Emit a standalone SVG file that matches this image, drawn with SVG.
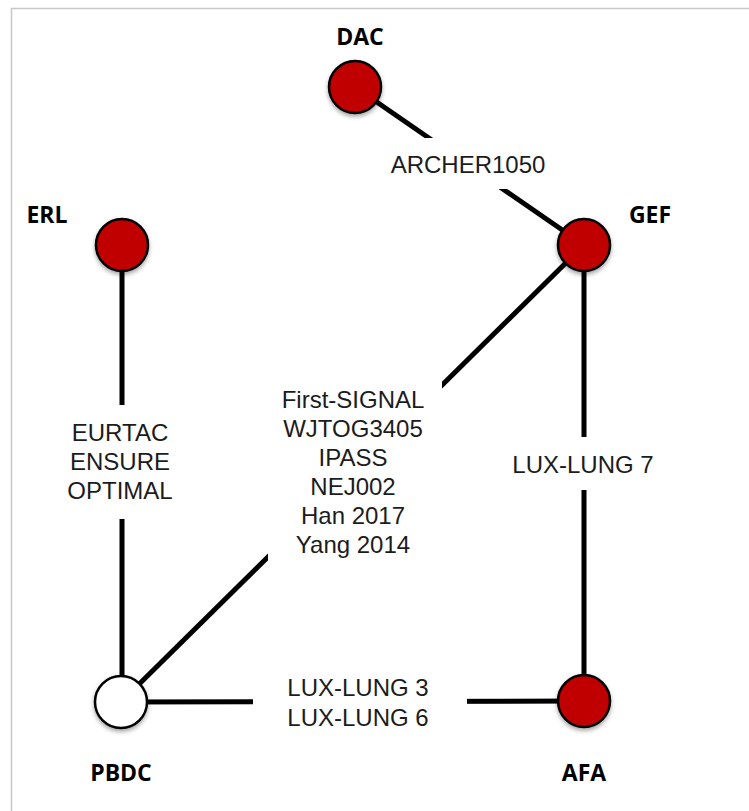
<svg xmlns="http://www.w3.org/2000/svg" width="749" height="811" viewBox="0 0 749 811">
<style>
.edge{stroke:#000;stroke-width:5;fill:none}
.bg{fill:#fff}
.lbl{font-family:"Liberation Sans",Arial,sans-serif;font-size:24px;fill:#1c1c1c;text-anchor:middle}
.name{font-family:"Open Sans","Liberation Sans",sans-serif;font-weight:bold;font-size:23px;fill:#000;text-anchor:middle}
.red{fill:#c00000;stroke:#000;stroke-width:2.5}
.white{fill:#fff;stroke:#000;stroke-width:2.5}
</style>
<defs>
<filter id="sh" x="-30%" y="-30%" width="160%" height="170%">
<feDropShadow dx="0" dy="2.5" stdDeviation="2" flood-color="#000" flood-opacity="0.35"/>
</filter>
</defs>
<rect width="749" height="811" fill="#fff"/>
<path d="M11.5 811V8.5H749" fill="none" stroke="#c8c8c8" stroke-width="1.5"/>
<g id="connectors">
<line class="edge" x1="355" y1="87" x2="584" y2="245"/>
<line class="edge" x1="122" y1="245" x2="122" y2="702"/>
<line class="edge" x1="584" y1="245" x2="121" y2="702"/>
<line class="edge" x1="584" y1="245" x2="584" y2="701"/>
<line class="edge" x1="121" y1="702" x2="584" y2="701"/>
<rect class="bg" x="385" y="138" width="167" height="51"/>
<rect class="bg" x="58" y="405" width="128" height="114"/>
<rect class="bg" x="268" y="375" width="174" height="193"/>
<rect class="bg" x="505" y="437" width="155" height="53"/>
<rect class="bg" x="253" y="670" width="214" height="70"/>
<text class="lbl" x="468" y="173">ARCHER1050</text>
<text class="lbl" x="120" y="441">EURTAC</text>
<text class="lbl" x="120" y="470">ENSURE</text>
<text class="lbl" x="120" y="499">OPTIMAL</text>
<text class="lbl" x="353" y="408">First-SIGNAL</text>
<text class="lbl" x="353" y="437">WJTOG3405</text>
<text class="lbl" x="353" y="466">IPASS</text>
<text class="lbl" x="353" y="495">NEJ002</text>
<text class="lbl" x="353" y="524">Han 2017</text>
<text class="lbl" x="353" y="553">Yang 2014</text>
<text class="lbl" x="583" y="473">LUX-LUNG 7</text>
<text class="lbl" x="358" y="696">LUX-LUNG 3</text>
<text class="lbl" x="358" y="726">LUX-LUNG 6</text>
</g>
<g id="DAC"><circle class="red" cx="355" cy="87" r="26" filter="url(#sh)"/><text class="name" x="360" y="45">DAC</text></g>
<g id="ERL"><circle class="red" cx="122" cy="245" r="26" filter="url(#sh)"/><text class="name" x="47" y="223">ERL</text></g>
<g id="GEF"><circle class="red" cx="584" cy="245" r="26" filter="url(#sh)"/><text class="name" x="650" y="223">GEF</text></g>
<g id="PBDC"><circle class="white" cx="121" cy="702" r="26" filter="url(#sh)"/><text class="name" x="121" y="781">PBDC</text></g>
<g id="AFA"><circle class="red" cx="584" cy="701" r="26" filter="url(#sh)"/><text class="name" x="584" y="781">AFA</text></g>
</svg>
